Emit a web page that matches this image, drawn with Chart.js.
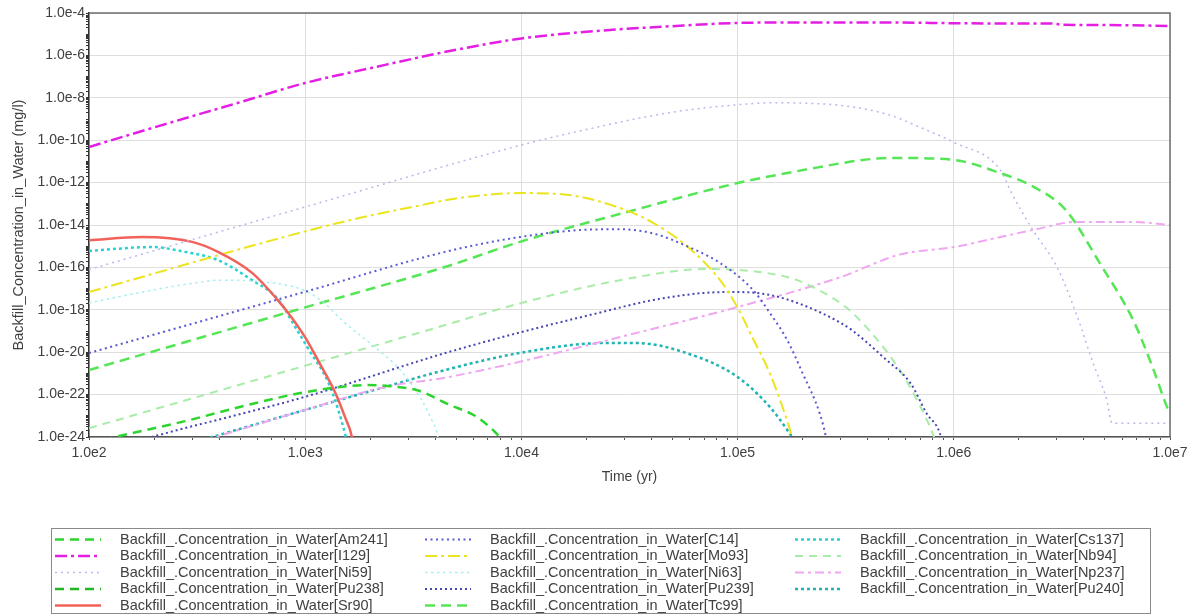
<!DOCTYPE html>
<html>
<head>
<meta charset="utf-8">
<script src="https://cdn.jsdelivr.net/npm/chart.js@4.4.1/dist/chart.umd.min.js"></script>
<style>
  html, body { margin: 0; padding: 0; background: #fff; }
</style>
</head>
<body>
<canvas id="chart" width="1200" height="616"></canvas>
<script>
// time (yr) / concentration (mg/l) per nuclide
const am241T = [100, 132, 278, 560, 1000, 1930, 2450, 3300, 4680, 6100, 7400, 7900, 8900];
const am241C = [5.0e-25, 1.0e-24, 5.6e-24, 3.5e-23, 1.3e-22, 2.8e-22, 2.5e-22, 1.6e-22, 3.2e-23, 1.0e-23, 2.1e-24, 1.0e-24, 1.0e-25];

const i129T = [100, 200, 500, 1000, 2000, 5000, 1e4, 2e4, 5e4, 1e5, 2e5, 5e5, 1e6, 2e6, 2.8e6, 3.2e6, 5e6, 1e7];
const i129C = [4.8e-11, 4.0e-10, 6.2e-9, 5.0e-8, 2.5e-7, 1.86e-6, 6.3e-6, 1.3e-5, 2.4e-5, 3.4e-5, 3.6e-5, 3.6e-5, 3.3e-5, 3.2e-5, 3.2e-5, 2.8e-5, 2.7e-5, 2.45e-5];

const ni59T = [100, 1000, 1e4, 2e4, 5e4, 1e5, 1.5e5, 2e5, 3e5, 5e5, 7e5, 1e6, 1.64e6, 1.85e6, 2.32e6, 3.0e6, 3.72e6, 4.4e6, 5.1e6, 5.4e6, 1e7];
const ni59C = [7.9e-17, 7.1e-14, 5.9e-11, 3.2e-10, 2.1e-9, 4.7e-9, 5.9e-9, 5.6e-9, 4.4e-9, 1.6e-9, 4.0e-10, 7.9e-11, 4.0e-12, 3.2e-13, 5.8e-15, 1.05e-16, 5.0e-19, 3.2e-21, 5.6e-23, 4.5e-24, 4.5e-24];

const pu238T = [];
const pu238C = [];

const sr90T = [100, 176, 300, 395, 568, 748, 850, 1000, 1148, 1374, 1528, 1644, 1750];
const sr90C = [1.9e-15, 2.7e-15, 1.6e-15, 5.4e-16, 5.5e-17, 2.8e-18, 5.6e-19, 5.0e-20, 4.0e-21, 1.3e-22, 8.7e-24, 1.0e-24, 1.0e-26];

const c14T = [100, 1000, 4440, 9840, 2.0e4, 2.86e4, 4.07e4, 5.83e4, 8.3e4, 1.18e5, 1.41e5, 1.69e5, 2.0e5, 2.4e5, 2.56e5, 2.7e5];
const c14C = [9.1e-21, 7.1e-18, 5.4e-16, 2.7e-15, 6.0e-15, 6.3e-15, 4.0e-15, 1.0e-15, 1.6e-16, 8.5e-18, 7.1e-19, 4.0e-20, 1.0e-21, 1.26e-23, 1.0e-24, 3.2e-26];

const mo93T = [100, 1000, 2000, 3300, 5000, 7700, 1e4, 1.66e4, 2.86e4, 4.07e4, 5.83e4, 8.3e4, 1e5, 1.17e5, 1.41e5, 1.69e5, 1.78e5, 1.9e5];
const mo93C = [6.9e-18, 5.0e-15, 2.8e-14, 7.9e-14, 1.8e-13, 2.9e-13, 3.2e-13, 2.6e-13, 6.3e-14, 1.26e-14, 1.0e-15, 2.5e-17, 1.26e-18, 5.0e-20, 1.0e-21, 6.3e-24, 1.0e-24, 1.0e-26];

const ni63T = [100, 196, 316, 398, 600, 1000, 1230, 1480, 2090, 2750, 3390, 3890, 4070, 4270];
const ni63C = [2.1e-18, 8.5e-18, 1.9e-17, 2.5e-17, 2.2e-17, 7.9e-18, 2.0e-18, 3.2e-19, 1.8e-20, 1.45e-21, 7.9e-23, 5.0e-24, 1.6e-24, 1.0e-25];

const pu239T = [100, 195, 1000, 4440, 1e4, 2.27e4, 4.07e4, 7.1e4, 1e5, 1.41e5, 2.0e5, 2.98e5, 3.42e5, 4.8e5, 6.3e5, 7.5e5, 8.6e5, 9.2e5];
const pu239C = [1.4e-25, 1.0e-24, 7.9e-23, 9.1e-21, 8.9e-20, 7.1e-19, 2.9e-18, 6.3e-18, 6.9e-18, 5.0e-18, 1.7e-18, 2.5e-19, 1.0e-19, 5.0e-21, 3.5e-22, 1.26e-23, 1.6e-24, 1.0e-25];

const tc99T = [100, 1000, 4440, 9840, 3.08e4, 1e5, 2.04e5, 4.17e5, 5.6e5, 1e6, 1.64e6, 2.34e6, 3.3e6, 4.73e6, 6.76e6, 8.3e6, 9.7e6, 1e7];
const tc99C = [1.45e-21, 1.3e-18, 1.05e-16, 1.6e-15, 4.1e-14, 9.5e-13, 4.0e-12, 1.3e-11, 1.45e-11, 1.17e-11, 2.8e-12, 6.3e-13, 5.0e-14, 1.6e-16, 3.2e-19, 2.0e-21, 2.5e-23, 1.26e-23];

const cs137T = [100, 196, 278, 395, 568, 748, 897, 1042, 1288, 1479, 1585];
const cs137C = [6.0e-16, 9.1e-16, 5.4e-16, 2.2e-16, 2.5e-17, 3.2e-18, 1.6e-19, 1.26e-20, 3.2e-22, 5.0e-24, 3.2e-25];

const nb94T = [100, 1000, 3400, 1e4, 2.86e4, 7.1e4, 1e5, 1.7e5, 2.04e5, 3.16e5, 4.17e5, 5.5e5, 6.76e5, 8.1e5, 8.7e5];
const nb94C = [2.6e-24, 2.3e-21, 8.5e-20, 2.1e-18, 2.5e-17, 8.3e-17, 7.6e-17, 3.5e-17, 1.8e-17, 1.35e-18, 7.9e-20, 2.0e-21, 5.6e-23, 1.0e-24, 1.0e-25];

const np237T = [100, 383, 1000, 2340, 4440, 9770, 2.86e4, 1e5, 3.0e5, 5.6e5, 1e6, 1.64e6, 2.32e6, 3.7e6, 6.7e6, 1e7];
const np237C = [2.0e-26, 1.0e-24, 1.9e-23, 2.3e-22, 6.3e-22, 3.5e-21, 5.2e-20, 1.35e-18, 3.5e-17, 4.0e-16, 9.1e-16, 2.7e-15, 5.8e-15, 1.4e-14, 1.4e-14, 1.0e-14];

const pu240T = [100, 371, 1000, 2340, 4440, 9770, 2.4e4, 3.4e4, 5.8e4, 1e5, 1.41e5, 1.7e5, 1.78e5, 1.9e5];
const pu240C = [2.0e-26, 1.0e-24, 1.9e-23, 2.3e-22, 1.45e-21, 9.1e-21, 2.7e-20, 2.7e-20, 9.1e-21, 6.8e-22, 2.6e-23, 2.1e-24, 1.0e-24, 1.0e-25];

// axis ranges (powers of ten)
const xDecades = [2, 7];
const yDecades = [-24, -4];

const labelFont = '"Liberation Sans", Arial, sans-serif';

// legend order is column-major: 5 rows per column
const series = [
  { name: 'Am241', t: am241T, c: am241C, color: '#2ed42e', width: 2.5, dash: [9, 6] },
  { name: 'I129',  t: i129T,  c: i129C,  color: '#e41ee4', width: 2.5, dash: [12, 4, 3, 4] },
  { name: 'Ni59',  t: ni59T,  c: ni59C,  color: '#b8b8ee', width: 1.5, dash: [2, 4] },
  { name: 'Pu238', t: pu238T, c: pu238C, color: '#22b822', width: 2.5, dash: [9, 6] },
  { name: 'Sr90',  t: sr90T,  c: sr90C,  color: '#f0625a', width: 2.5, dash: [] },
  { name: 'C14',   t: c14T,   c: c14C,   color: '#5a5ad6', width: 2,   dash: [2, 3.5] },
  { name: 'Mo93',  t: mo93T,  c: mo93C,  color: '#ece41e', width: 2,   dash: [12, 4, 3, 4] },
  { name: 'Ni63',  t: ni63T,  c: ni63C,  color: '#a8eef0', width: 1.5, dash: [2.5, 3.5] },
  { name: 'Pu239', t: pu239T, c: pu239C, color: '#4646b4', width: 2,   dash: [2, 3] },
  { name: 'Tc99',  t: tc99T,  c: tc99C,  color: '#54e654', width: 2.5, dash: [10, 6] },
  { name: 'Cs137', t: cs137T, c: cs137C, color: '#28d2d2', width: 2.5, dash: [3, 3] },
  { name: 'Nb94',  t: nb94T,  c: nb94C,  color: '#a8eca8', width: 2,   dash: [8, 6] },
  { name: 'Np237', t: np237T, c: np237C, color: '#f0a6f0', width: 2,   dash: [9, 4, 3, 4] },
  { name: 'Pu240', t: pu240T, c: pu240C, color: '#1fb4b4', width: 2.5, dash: [3, 3] }
];

// 1..9 x 10^k ticks so every decade gets its minor marks
function logTicks(from, to) {
  const out = [];
  for (let e = from; e < to; e++) {
    for (let m = 1; m <= 9; m++) out.push({ value: parseFloat(m + 'e' + e) });
  }
  out.push({ value: parseFloat('1e' + to) });
  return out;
}

function decadeOf(v) {
  const l = Math.log10(v);
  const r = Math.round(l);
  return Math.abs(l - r) < 1e-9 ? r : null;
}

const isMajorX = v => decadeOf(v) !== null;
const isMajorY = v => { const d = decadeOf(v); return d !== null && d % 2 === 0; };
const sciLabel = v => '1.0e' + decadeOf(v);

// box around the plot + the legend underneath it
const frame = {
  id: 'frame',
  afterDatasetsDraw(chart) {
    const { ctx, chartArea: a } = chart;
    ctx.save();
    ctx.strokeStyle = '#6e6e6e';
    ctx.lineWidth = 1.5;
    ctx.beginPath();
    ctx.moveTo(a.left, a.top);
    ctx.lineTo(a.right, a.top);
    ctx.lineTo(a.right, a.bottom);
    ctx.stroke();
    ctx.restore();
  },
  afterDraw(chart) {
    const ctx = chart.ctx;
    ctx.save();
    ctx.strokeStyle = '#8a8a8a';
    ctx.lineWidth = 1;
    ctx.strokeRect(51.5, 528.5, 1099, 85);
    ctx.font = '14.5px ' + labelFont;
    ctx.fillStyle = '#404040';
    ctx.textBaseline = 'middle';
    chart.data.datasets.forEach((ds, i) => {
      const col = Math.floor(i / 5), row = i % 5;
      const x = 55 + col * 370, y = 539.5 + row * 16.5;
      ctx.strokeStyle = ds.borderColor;
      ctx.lineWidth = ds.borderWidth;
      ctx.setLineDash(ds.borderDash);
      ctx.beginPath();
      ctx.moveTo(x, y);
      ctx.lineTo(x + 46, y);
      ctx.stroke();
      ctx.setLineDash([]);
      ctx.fillText(ds.label, x + 65, y);
    });
    ctx.restore();
  }
};

new Chart(document.getElementById('chart'), {
  type: 'line',
  data: {
    datasets: series.map(s => ({
      label: 'Backfill_.Concentration_in_Water[' + s.name + ']',
      data: s.t.map((t, i) => ({ x: t, y: s.c[i] })),
      borderColor: s.color,
      borderWidth: s.width,
      borderDash: s.dash,
      pointRadius: 0,
      fill: false,
      cubicInterpolationMode: 'monotone'
    }))
  },
  options: {
    responsive: false,
    animation: false,
    parsing: false,
    layout: { padding: { top: 13, right: 30, bottom: 121, left: 0 } },
    plugins: { legend: { display: false }, tooltip: { enabled: false } },
    scales: {
      x: {
        type: 'logarithmic',
        min: Math.pow(10, xDecades[0]),
        max: Math.pow(10, xDecades[1]),
        afterBuildTicks: s => { s.ticks = logTicks(xDecades[0], xDecades[1]); },
        afterFit: s => { s.height = 58; },
        ticks: {
          autoSkip: false, maxRotation: 0, padding: 5,
          color: '#404040', font: { family: labelFont, size: 14 },
          callback: v => isMajorX(v) ? sciLabel(v) : ''
        },
        grid: {
          color: c => (c.tick && isMajorX(c.tick.value)) ? '#dedede' : 'rgba(0,0,0,0)',
          tickColor: '#555',
          tickLength: 3
        },
        border: { color: '#555', width: 1.5 },
        title: {
          display: true, text: 'Time (yr)', color: '#404040',
          font: { family: labelFont, size: 14 },
          padding: { top: 4, bottom: 9 }
        }
      },
      y: {
        type: 'logarithmic',
        min: Math.pow(10, yDecades[0]),
        max: Math.pow(10, yDecades[1]),
        afterBuildTicks: s => { s.ticks = logTicks(yDecades[0], yDecades[1]); },
        afterFit: s => { s.width = 89; },
        ticks: {
          autoSkip: false, padding: 1,
          color: '#404040', font: { family: labelFont, size: 14 },
          callback: v => isMajorY(v) ? sciLabel(v) : ''
        },
        grid: {
          color: c => (c.tick && isMajorY(c.tick.value)) ? '#dedede' : 'rgba(0,0,0,0)',
          tickColor: '#333',
          tickLength: 3
        },
        border: { color: '#333', width: 1.5 },
        title: {
          display: true, text: 'Backfill_Concentration_in_Water (mg/l)', color: '#404040',
          font: { family: labelFont, size: 14.5 },
          padding: { top: 10, bottom: 4 }
        }
      }
    }
  },
  plugins: [frame]
});
</script>
</body>
</html>
